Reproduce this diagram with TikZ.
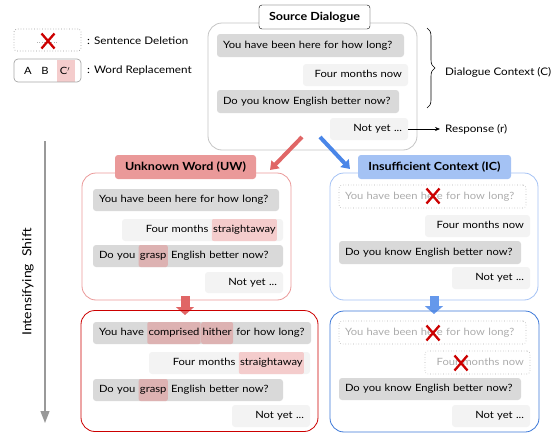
\documentclass[tikz,border=0pt]{standalone}
\usepackage{fontspec}
\setmainfont{Lato}[FakeStretch=1.12]
\usetikzlibrary{arrows.meta,decorations.pathreplacing}
\definecolor{dgray}{HTML}{D9D9D9}
\definecolor{lgray}{HTML}{F3F3F3}
\definecolor{uwred}{HTML}{EA9999}
\definecolor{uwdark}{HTML}{CC0000}
\definecolor{icblue}{HTML}{A4C2F4}
\definecolor{icdark}{HTML}{3C78D8}
\definecolor{arrred}{HTML}{E06666}
\definecolor{arrblue}{HTML}{4A86E8}
\definecolor{hlpink}{HTML}{F4CCCC}
\definecolor{hldark}{HTML}{DDB2B2}
\definecolor{xred}{HTML}{CC0000}
\definecolor{srcgray}{HTML}{C4C4C4}
\definecolor{dotgray}{HTML}{B0B0B0}
\definecolor{txtgray}{HTML}{ABABAB}
\newcommand{\bub}[7]{%
  \pgfmathsetmacro\bw{#5-#3-12}%
  \pgfmathsetmacro\bh{#6-#4}%
  \node[#2, text width=\bw pt, minimum height=\bh pt] (#1) at ({(#3+#5)/2},{(#4+#6)/2}) {\mbox{#7}};}
\newcommand{\hl}[2]{\tikz[baseline=(hh.base)]\node[fill=#1,rounded corners=2pt,inner xsep=1.3pt,inner ysep=0pt,minimum height=22pt,text height=8pt,text depth=2.5pt](hh){#2};}
\newcommand{\xmk}[2]{\draw[xred, line width=2.3pt] (#1-6.5,#2-7.5) -- (#1+6.5,#2+7.5) (#1-6.5,#2+7.5) -- (#1+6.5,#2-7.5);}
\tikzset{
  bubble/.style={rounded corners=3pt, inner xsep=6pt, inner ysep=0pt, text height=8pt, text depth=2.5pt},
  dark/.style={bubble, fill=dgray, align=left},
  light/.style={bubble, fill=lgray, align=right},
  deldark/.style={bubble, draw=dotgray, dotted, line width=0.6pt, text=txtgray, align=left},
  dellight/.style={bubble, draw=dotgray, dotted, line width=0.6pt, text=txtgray, align=right},
  frame/.style={rounded corners=14pt, line width=0.8pt, inner sep=0pt},
  title/.style={rounded corners=3pt, inner sep=0pt, font=\fontsize{11.2}{13}\selectfont\bfseries},
  diag/.style={line width=4pt, -{Triangle[width=11pt,length=8pt]}},
  down/.style={line width=9pt, -{Triangle[width=18pt,length=8pt]}},
  lbl/.style={anchor=west, inner sep=0pt},
}
\begin{document}
\begin{tikzpicture}[x=1pt,y=-1pt,font=\fontsize{10}{12}\selectfont]
\useasboundingbox (0,0) rectangle (558,434);
% legend
\node[draw=gray!80, dotted, line width=0.7pt, rounded corners=3pt, minimum width=67pt, minimum height=22pt, inner sep=0pt] (legdel) at (47.5,40) {};
\coordinate (ld1) at (37,42); \coordinate (ld2) at (58,42);
\draw[gray!60, dotted] (ld1) -- (ld2);
\xmk{48}{41}
\node[lbl, font=\fontsize{10.4}{12}\selectfont] (legdeltxt) at (87,41) {: Sentence Deletion};
\fill[hlpink] (57,59.5) rectangle (75,81.5);
\node[draw=gray!70, rounded corners=4pt, minimum width=67pt, minimum height=23pt, inner sep=0pt, line width=0.7pt] (legrep) at (47.5,70.5) {};
\node (lA) at (28,71) {A};
\node (lB) at (45,71) {B};
\node (lC) at (65,71) {C$'$};
\node[lbl, font=\fontsize{10.4}{12}\selectfont] (legreptxt) at (87,71) {: Word Replacement};
% intensifying arrow
\coordinate (la1) at (45,141); \coordinate (la2) at (45,423);
\draw[gray!80, line width=1.3pt, -{Triangle[width=9pt,length=12pt]}] (la1) -- (la2);
\node[rotate=90, font=\fontsize{12.5}{14}\selectfont] (intens) at (28,282) {Intensifying~~Shift};
% source
\node[frame, draw=srcgray, minimum width=209pt, minimum height=127pt] (srcbox) at (312.5,86.5) {};
\node[title, draw=black, fill=white, minimum width=111pt, minimum height=24pt] (srct) at (314.5,17) {Source Dialogue};
\bub{s1}{dark}{217}{34}{404}{57}{You have been here for how long?}
\bub{s2}{light}{303}{64}{408}{86}{Four months now}
\bub{s3}{dark}{217}{90}{399}{113}{Do you know English better now?}
\bub{s4}{light}{330}{118}{408}{140}{Not yet ...}
\coordinate (br1) at (427,28); \coordinate (br2) at (427,108);
\draw[decorate, decoration={brace, amplitude=8pt}, line width=0.6pt] (br1) -- (br2);
\node[lbl, font=\fontsize{10.4}{12}\selectfont] (ctx) at (445,72) {Dialogue Context (C)};
\node[lbl, font=\fontsize{10.4}{12}\selectfont] (resp) at (445,129) {Response (r)};
\draw[-{Stealth[length=5pt,width=4pt]}, line width=0.6pt] (s4.east) -- ([xshift=-5pt]resp.west);
% diagonal arrows
\coordinate (ra1) at (302,137); \coordinate (ra2) at (270,170);
\draw[diag, arrred] (ra1) -- (ra2);
\coordinate (ba1) at (320,137); \coordinate (ba2) at (350,169);
\draw[diag, arrblue] (ba1) -- (ba2);
% UW
\node[frame, draw=uwred, minimum width=209pt, minimum height=127pt] (uwbox) at (186.5,236.5) {};
\node[title, fill=uwred, minimum width=141pt, minimum height=24pt] (uwt) at (185.5,167) {Unknown Word (UW)};
\bub{u1}{dark}{93}{189}{279}{211}{You have been here for how long?}
\bub{u2}{light}{122}{219}{283}{241}{Four months \hl{hlpink}{straightaway}}
\bub{u3}{dark}{93}{245}{283}{267}{Do you \hl{hldark}{grasp} English better now?}
\bub{u4}{light}{205}{272}{283}{293}{Not yet ...}
\coordinate (rd1) at (185,296); \coordinate (rd2) at (185,315);
\draw[down, arrred] (rd1) -- (rd2);
% UW2
\node[frame, draw=uwdark, minimum width=237pt, minimum height=121pt] (uw2box) at (199.5,371) {};
\bub{v1}{dark}{93}{322}{311}{344}{You have \hl{hldark}{comprised}\hspace{0.5pt}\hl{hldark}{hither} for how long?}
\bub{v2}{light}{149}{352}{310}{374}{Four months \hl{hlpink}{straightaway}}
\bub{v3}{dark}{93}{379}{283}{401}{Do you \hl{hldark}{grasp} English better now?}
\bub{v4}{light}{232}{405}{310}{427}{Not yet ...}
% IC
\node[frame, draw=icblue, minimum width=208pt, minimum height=127pt] (icbox) at (434,236.5) {};
\node[title, fill=icblue, minimum width=153pt, minimum height=24pt] (ict) at (434.5,167) {Insufficient Context (IC)};
\bub{i1}{deldark}{339}{185}{526}{208}{You have been here for how long?}
\xmk{433}{196}
\bub{i2}{light}{425}{215}{530}{237}{Four months now}
\bub{i3}{dark}{339}{241}{521}{264}{Do you know English better now?}
\bub{i4}{light}{452}{267}{530}{289}{Not yet ...}
\coordinate (bd1) at (434,296); \coordinate (bd2) at (434,314);
\draw[down, arrblue!85] (bd1) -- (bd2);
% IC2
\node[frame, draw=icdark, minimum width=209pt, minimum height=121pt] (ic2box) at (434.5,371.5) {};
\bub{j1}{deldark}{339}{321}{526}{344}{You have been here for how long?}
\xmk{433}{333}
\bub{j2}{dellight}{425}{351}{530}{374}{Four months now}
\xmk{461}{363}
\bub{j3}{dark}{339}{378}{521}{400}{Do you know English better now?}
\bub{j4}{light}{452}{405}{530}{427}{Not yet ...}
\end{tikzpicture}
\end{document}
